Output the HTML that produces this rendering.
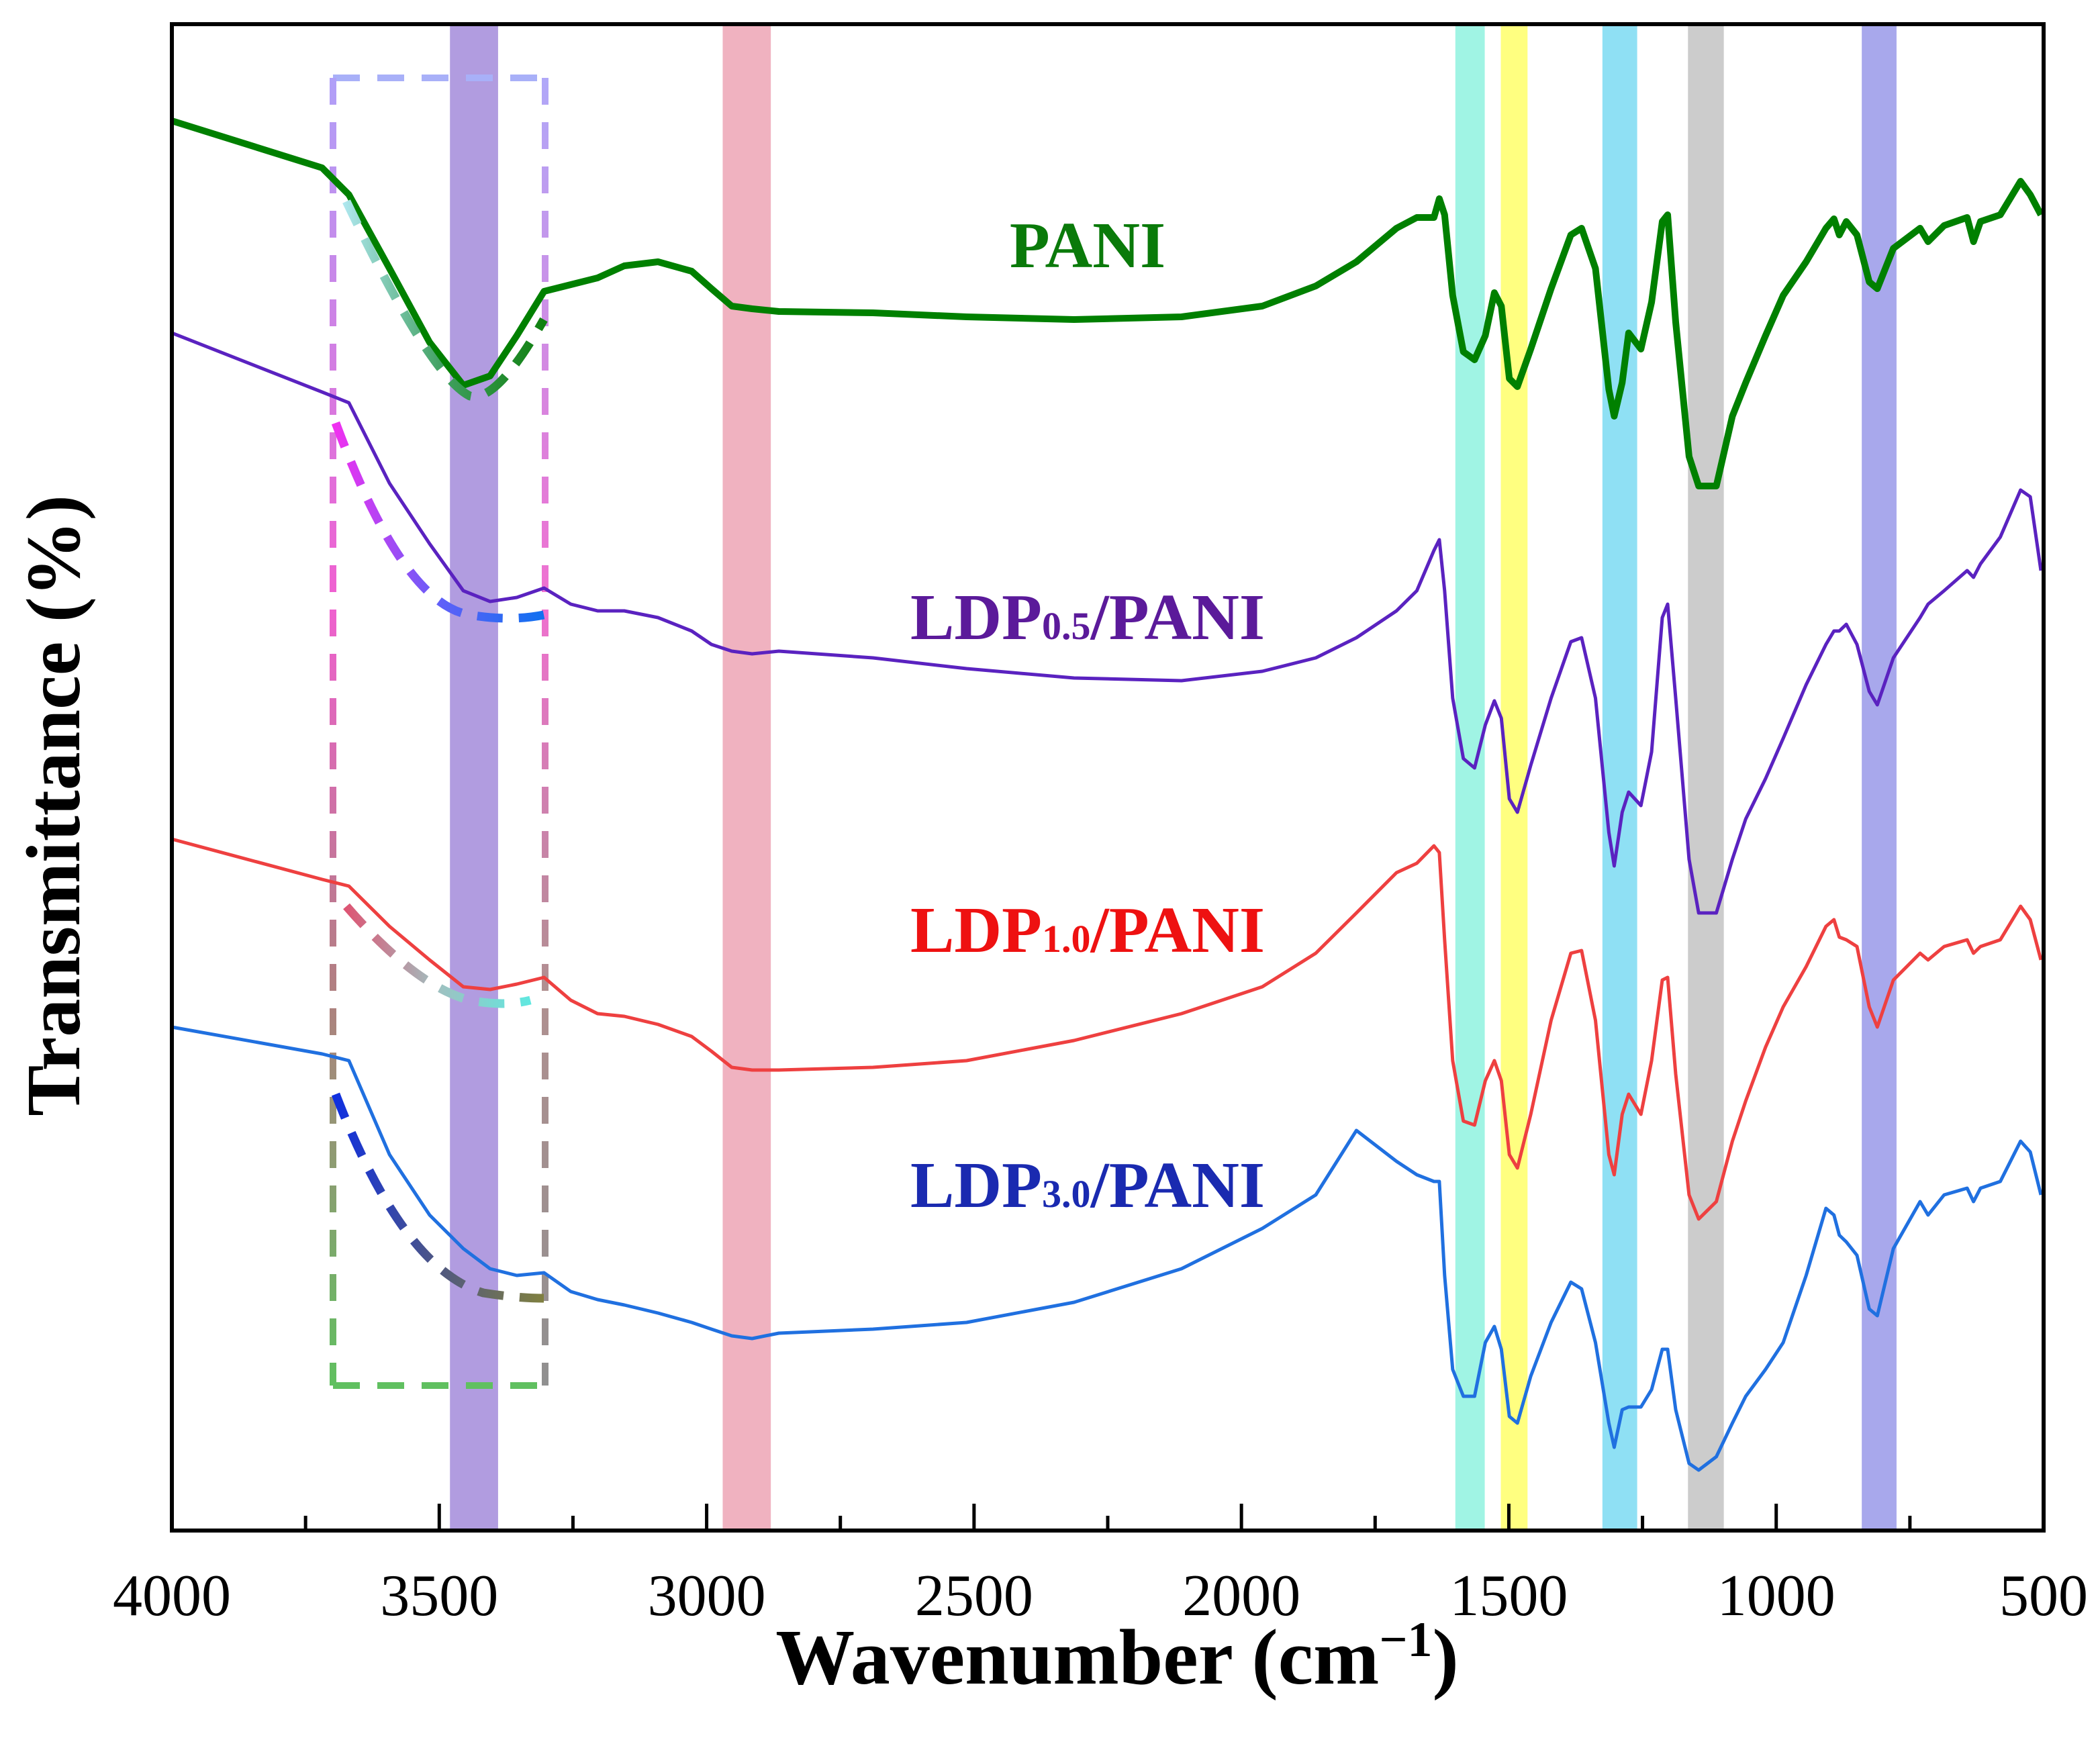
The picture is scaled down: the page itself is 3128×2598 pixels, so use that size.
<!DOCTYPE html>
<html><head><meta charset="utf-8"><style>
html,body{margin:0;padding:0;background:#fff}
svg{display:block}
</style></head><body>
<svg id="chart" width="3128" height="2598" viewBox="0 0 3128 2598" xmlns="http://www.w3.org/2000/svg" font-family="'Liberation Serif', serif">
<defs>
<linearGradient id="gLeft" gradientUnits="userSpaceOnUse" x1="0" y1="116" x2="0" y2="2064"><stop offset="0" stop-color="#b0a0f8"/><stop offset="0.4" stop-color="#f060d0"/><stop offset="0.7" stop-color="#b08080"/><stop offset="1" stop-color="#60c060"/></linearGradient>
<linearGradient id="gRight" gradientUnits="userSpaceOnUse" x1="0" y1="116" x2="0" y2="2064"><stop offset="0" stop-color="#b0a8f8"/><stop offset="0.4" stop-color="#f070d0"/><stop offset="0.7" stop-color="#b09090"/><stop offset="1" stop-color="#909090"/></linearGradient>
<linearGradient id="gP" gradientUnits="userSpaceOnUse" x1="510" y1="0" x2="810" y2="0"><stop offset="0" stop-color="#b0e8f0"/><stop offset="0.5" stop-color="#40a060"/><stop offset="1" stop-color="#108010"/></linearGradient>
<linearGradient id="gA" gradientUnits="userSpaceOnUse" x1="500" y1="0" x2="810" y2="0"><stop offset="0" stop-color="#f030f0"/><stop offset="0.5" stop-color="#6060f8"/><stop offset="1" stop-color="#1070f0"/></linearGradient>
<linearGradient id="gB" gradientUnits="userSpaceOnUse" x1="510" y1="0" x2="790" y2="0"><stop offset="0" stop-color="#e05070"/><stop offset="0.5" stop-color="#a0c0c0"/><stop offset="1" stop-color="#60e8e0"/></linearGradient>
<linearGradient id="gC" gradientUnits="userSpaceOnUse" x1="500" y1="0" x2="810" y2="0"><stop offset="0" stop-color="#1030e0"/><stop offset="0.5" stop-color="#505880"/><stop offset="1" stop-color="#808040"/></linearGradient>
</defs>
<g id="bands"></g>
<g id="annot"></g>
<g id="series"></g>
<g id="axes"></g>
<text x="1620" y="398" text-anchor="middle" font-size="98" font-weight="bold" fill="#0a7a0a">PANI</text>
<text x="1620" y="952" text-anchor="middle" font-size="98" font-weight="bold" fill="#5b1a9a">LDP<tspan font-size="58">0.5</tspan>/PANI</text>
<text x="1620" y="1418" text-anchor="middle" font-size="98" font-weight="bold" fill="#ee1111">LDP<tspan font-size="58">1.0</tspan>/PANI</text>
<text x="1620" y="1798" text-anchor="middle" font-size="98" font-weight="bold" fill="#1a2ab0">LDP<tspan font-size="58">3.0</tspan>/PANI</text>
<text x="1664" y="2508" text-anchor="middle" font-size="118" font-weight="bold">Wavenumber (cm<tspan baseline-shift="super" font-size="74">−1</tspan>)</text>
<text transform="translate(118,1200) rotate(-90)" text-anchor="middle" font-size="114" font-weight="bold">Transmittance (%)</text>
</svg>
<script>
const wn = [4000,3719,3669,3593,3518,3455,3405,3355,3304,3254,3204,3154,3091,3028,2991,2953,2915,2865,2689,2514,2313,2112,1961,1861,1785,1710,1672,1640,1630,1620,1605,1585,1564,1544,1527,1514,1499,1484,1459,1421,1384,1364,1338,1313,1303,1288,1276,1253,1233,1213,1203,1188,1163,1145,1112,1082,1057,1020,987,944,907,892,882,869,849,826,811,781,731,716,686,643,631,618,581,543,525,505];
const tPANI = [105,101.5,99.5,94,88.5,85.3,86,89,92.3,92.8,93.3,94.2,94.5,93.8,92.5,91.2,91,90.8,90.7,90.4,90.2,90.4,91.2,92.7,94.5,97,97.8,97.8,99.2,98,92,87.8,87.2,89,92.2,91.2,85.8,85.2,88,92.5,96.5,97,94,85,83,85.5,89.2,88,91.5,97.5,98,90,80,77.8,77.8,83,85.5,89,92,94.5,97,97.7,96.5,97.5,96.5,93,92.5,95.5,97,96,97.2,97.8,96,97.5,98,100.5,99.5,98];
const tLDP05 = [89.2,84.8,84,78,73.5,70,69.2,69.5,70.2,69,68.5,68.5,68,67,66,65.5,65.3,65.5,65,64.2,63.5,63.3,64,65,66.5,68.5,70,73,73.8,70,62,57.5,56.8,60,61.8,60.5,54.5,53.5,57,62,66.2,66.5,62,52,49.5,53.5,55,54,58,68,69,62,50,46,46,50,53,56,59,63,66,67,67,67.5,66,62.5,61.5,65,68,69,70,71.5,71,72,74,77.5,77,71.5];
const tLDP10 = [51.5,48.5,48,45,42.5,40.5,40.3,40.7,41.2,39.5,38.5,38.3,37.7,36.8,35.7,34.5,34.3,34.3,34.5,35,36.5,38.5,40.5,43,46,49,49.7,51,50.5,44,35,30.5,30.2,33.5,35,33.5,28,27,31,38,43,43.2,38,28,26.5,31,32.5,31,35,41,41.2,34,25,23.2,24.5,29,32,36,39,42,45,45.5,44.2,44,43.5,39,37.5,41,43,42.5,43.5,44,43,43.5,44,46.5,45.5,42.5];
const tLDP30 = [37.5,35.5,35,28,23.5,21,19.5,19,19.2,17.8,17.2,16.8,16.2,15.5,15,14.5,14.3,14.7,15,15.5,17,19.5,22.5,25,29.8,27.5,26.5,26,26,19,12,10,10,14,15.2,13.5,8.5,8,11.5,15.5,18.5,18,14,8,6.2,9,9.2,9.2,10.5,13.5,13.5,9,5,4.5,5.5,8,10,12,14,19,24,23.5,22,21.5,20.5,16.5,16,21,24.5,23.5,25,25.5,24.5,25.5,26,29,28.2,25];
const bandLo = [3390,2880,1545,1465,1260,1098,775];
const bandHi = [3480,2970,1600,1515,1325,1165,840];
const bandColors = ['#b19ce0','#f0b2c0','#a0f4e4','#ffff80','#8fe0f4','#cccccc','#a8a8ec'];
const bandNames = ['band-3430','band-2925','band-1570','band-1490','band-1295','band-1130','band-805'];
const xTicks = [4000,3500,3000,2500,2000,1500,1000,500];
const xMinor = [3750,3250,2750,2250,1750,1250,750];

const L=256,R=3044,T=36,B=2280;
const x = w => L + (4000-w)*(R-L)/3500;
const y = t => B - t*20;
const NS='http://www.w3.org/2000/svg';
function mk(tag, parent, attrs){const e=document.createElementNS(NS,tag);for(const k in attrs)e.setAttribute(k,attrs[k]);parent.appendChild(e);return e;}

const gb=document.getElementById('bands');
for(let i=0;i<bandLo.length;i++){
  const r=mk('rect',gb,{x:x(bandHi[i]),y:T,width:x(bandLo[i])-x(bandHi[i]),height:B-T,fill:bandColors[i]});
  
  
}

const ga=document.getElementById('annot');
const box=[['M496 116 H812','#a8b0f8'],['M496 116 V2064','url(#gLeft)'],['M812 116 V2064','url(#gRight)'],['M496 2064 H812','#60c060']];
box.forEach(b=>{const p=mk('path',ga,{d:b[0],stroke:b[1],'stroke-width':10,fill:'none','stroke-dasharray':'40 26'});
  
  });

const gs=document.getElementById('series');
const series=[[tPANI,'#008000',10,'series-pani'],[tLDP05,'#5a22c0',5,'series-ldp05'],[tLDP10,'#ee4040',5,'series-ldp10'],[tLDP30,'#2070e0',5,'series-ldp30']];
series.forEach(s=>{
  const d=wn.map((w,i)=>(i?'L':'M')+x(w).toFixed(1)+' '+y(s[0][i]).toFixed(1)).join(' ');
  const p=mk('path',gs,{d:d,stroke:s[1],'stroke-width':s[2],fill:'none','stroke-linejoin':'round'});
  
  
});
const dash=[['M516 300 Q640 560 700 590 Q740 600 810 476','url(#gP)'],['M500 630 Q600 900 700 916 Q760 926 810 916','url(#gA)'],['M516 1350 Q620 1470 700 1490 Q750 1500 790 1490','url(#gB)'],['M500 1630 Q600 1890 720 1926 Q770 1934 810 1934','url(#gC)']];
dash.forEach(dd=>{const p=mk('path',gs,{d:dd[0],stroke:dd[1],'stroke-width':13,fill:'none','stroke-dasharray':'38 24'});
  
  });

const gx=document.getElementById('axes');
const fr=mk('rect',gx,{x:L,y:T,width:R-L,height:B-T,fill:'none',stroke:'#000','stroke-width':6});


xTicks.forEach(v=>{
  const t=mk('line',gx,{x1:x(v),x2:x(v),y1:B,y2:B-40,stroke:'#000','stroke-width':5});
  
  
  const l=mk('text',gx,{x:x(v),y:2406,'text-anchor':'middle','font-size':88});
  l.textContent=v;
  
  
});
xMinor.forEach(v=>{
  const t=mk('line',gx,{x1:x(v),x2:x(v),y1:B,y2:B-22,stroke:'#000','stroke-width':5});
  
  
});
</script>
</body></html>
